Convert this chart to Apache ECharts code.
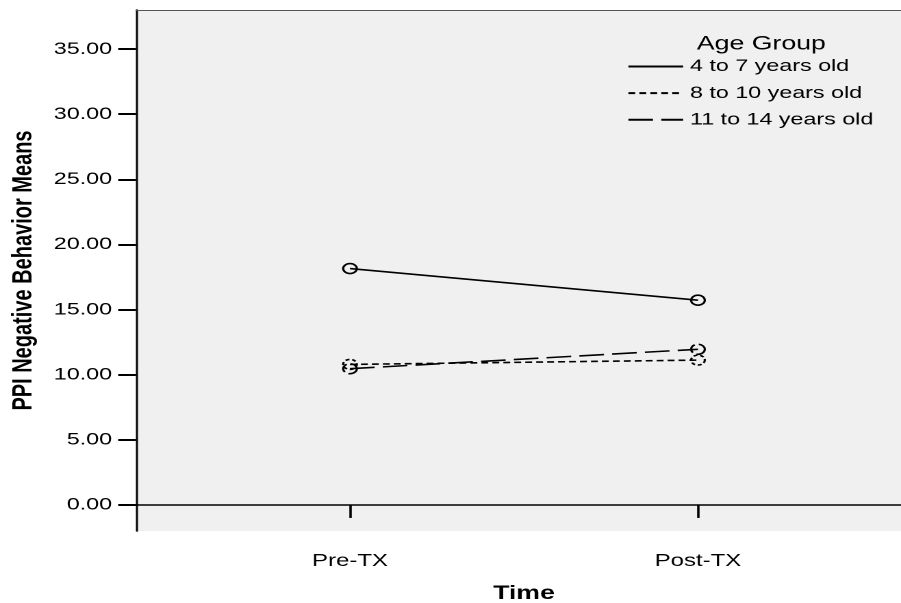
<!DOCTYPE html>
<html>
<head>
<meta charset="utf-8">
<script src="https://cdn.jsdelivr.net/npm/echarts@6/dist/echarts.min.js"></script>
<style>
  html, body { margin: 0; padding: 0; background: #fff; overflow: hidden; width: 901px; height: 603px; }
  #wrap { width: 901px; height: 603px; overflow: hidden; position: relative; }
  /* The chart is laid out in a narrower box and stretched horizontally */
  #chart { position: absolute; left: 0; top: 0; width: 658px; height: 603px;
           transform: scaleX(1.3693); transform-origin: 0 0; }
</style>
</head>
<body>
<div id="wrap"><div id="chart"></div></div>
<script>
// Measurement times (x categories)
const times = ['Pre-TX', 'Post-TX'];

// Mean PPI negative behavior score per age group at each time
const groupNames = ['4 to 7 years old', '8 to 10 years old', '11 to 14 years old'];
const means4to7 = [18.15, 15.72];
const means8to10 = [10.79, 11.12];
const means11to14 = [10.46, 11.95];

// Value-axis tick labels
const yTicks = [0, 5, 10, 15, 20, 25, 30, 35];

const FONT = "'Liberation Sans', Arial, sans-serif";

// Each time is placed at position 1, 2 on a value x axis
const toPoints = vals => vals.map((v, i) => [i + 1, v]);

function lineSeries(name, vals, dash, markerDash) {
  return {
    name: name,
    type: 'line',
    data: toPoints(vals),
    symbol: 'circle',
    symbolSize: 10,
    clip: false,
    lineStyle: { color: '#000', width: 1.6, type: dash },
    itemStyle: { color: 'transparent', borderColor: '#000', borderWidth: 1.6, borderType: markerDash },
    emphasis: { disabled: true },
    animation: false
  };
}

const chart = echarts.init(document.getElementById('chart'), null, { renderer: 'canvas', devicePixelRatio: 2 });

const X_MIN = 0.385, X_MAX = 2.615;

chart.setOption({
  animation: false,
  backgroundColor: '#fff',
  grid: {
    left: 99.32, top: 10, right: -8, height: 521,
    outerBoundsMode: 'none', containLabel: false,
    show: true, backgroundColor: '#f0f0f0', borderWidth: 0
  },
  xAxis: [{
    type: 'value',
    min: X_MIN, max: X_MAX,
    name: 'Time', nameLocation: 'middle', nameGap: 54.8,
    nameTextStyle: { fontFamily: FONT, fontSize: 19.5, fontWeight: 'bold', color: '#000', lineHeight: 16 },
    axisLine: { show: true, lineStyle: { color: '#000', width: 1.5 } },
    axisTick: { show: true, customValues: [1, 2], length: 13, lineStyle: { color: '#000', width: 1.8 } },
    axisLabel: {
      customValues: [1, 2], margin: 21,
      formatter: v => times[Math.round(v) - 1] || '',
      fontFamily: FONT, fontSize: 17.5, color: '#000'
    },
    splitLine: { show: false }
  }, {
    // top frame line of the plot area
    type: 'value', position: 'top',
    min: X_MIN, max: X_MAX,
    axisLine: { show: true, lineStyle: { color: '#555', width: 1 } },
    axisTick: { show: false }, axisLabel: { show: false }, splitLine: { show: false }
  }],
  yAxis: {
    type: 'value',
    min: -2, max: 38,
    name: 'PPI Negative Behavior Means', nameLocation: 'middle', nameGap: 72,
    nameTextStyle: { fontFamily: FONT, fontSize: 20, fontWeight: 'bold', color: '#000' },
    axisLine: { show: true, lineStyle: { color: '#000', width: 1.5 } },
    axisTick: { show: true, customValues: yTicks, length: 13, lineStyle: { color: '#000', width: 2 } },
    axisLabel: {
      customValues: yTicks, margin: 17.5,
      formatter: v => Number(v).toFixed(2),
      fontFamily: FONT, fontSize: 17, color: '#000'
    },
    splitLine: { show: false }
  },
  legend: {
    orient: 'vertical',
    left: 457.9, top: 54, padding: 0,
    itemWidth: 40, itemHeight: 20, itemGap: 1.6,
    itemStyle: { opacity: 0 },
    textStyle: { fontFamily: FONT, fontSize: 17, color: '#000', lineHeight: 20, padding: [0, 0, 5, 0] },
    selectedMode: false,
    data: groupNames
  },
  graphic: [{
    type: 'text', x: 556, y: 34, silent: true,
    style: { text: 'Age Group', textAlign: 'center', textVerticalAlign: 'top',
             fontFamily: FONT, fontSize: 19.5, fill: '#000' }
  }],
  series: [
    lineSeries(groupNames[0], means4to7, 'solid', 'solid'),
    lineSeries(groupNames[1], means8to10, [5, 3], [3, 2]),
    lineSeries(groupNames[2], means11to14, [18, 6], [9, 3])
  ]
});
</script>
</body>
</html>
